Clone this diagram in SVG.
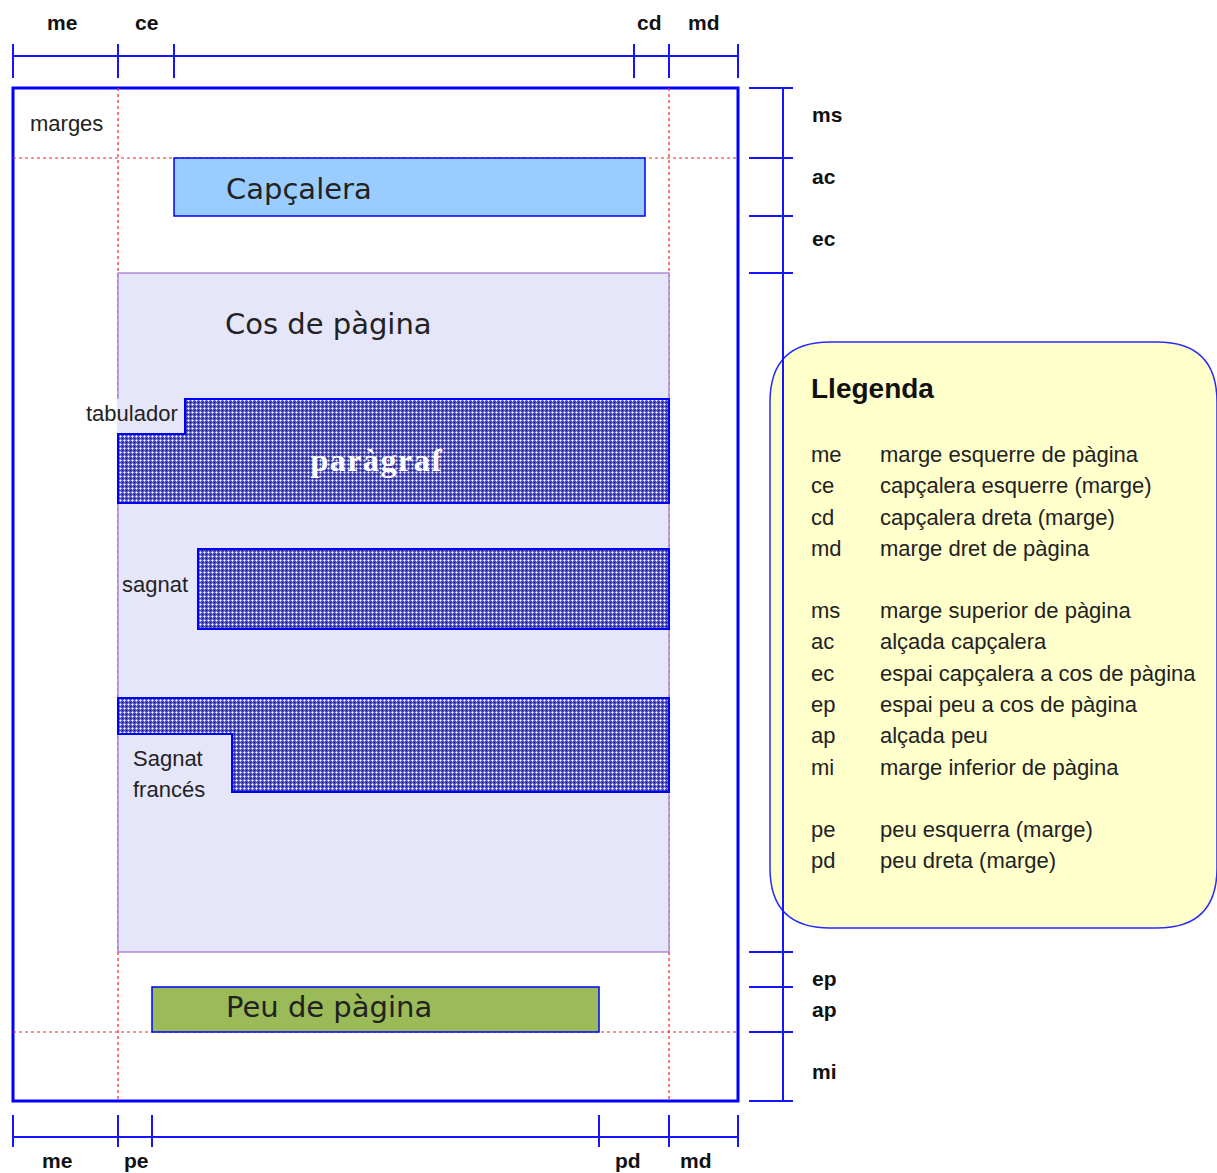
<svg xmlns="http://www.w3.org/2000/svg" width="1217" height="1173" viewBox="0 0 1217 1173">
<style>
.rl{stroke:#1414ff;stroke-width:2;fill:none}
.red{stroke:#ff2020;stroke-width:1.2;stroke-dasharray:3 3;fill:none}
.lab{font-family:"Liberation Sans",Arial,sans-serif;font-weight:bold;font-size:21px;fill:#111}
.big{font-family:"DejaVu Sans",Verdana,sans-serif;font-size:29px;fill:#222}
.sm{font-family:"Liberation Sans",Arial,sans-serif;font-size:22px;fill:#222}
.leg{font-family:"Liberation Sans",Arial,sans-serif;font-size:22px;fill:#222}
.par{fill:url(#hatch);stroke:#0000ff;stroke-width:2}
</style>
<defs>
<pattern id="hatch" width="4" height="4" patternUnits="userSpaceOnUse">
<rect width="4" height="4" fill="#4a4ab8"/>
<rect x="0" y="0" width="1" height="1" fill="#ffffff"/>
<rect x="1" y="0" width="1" height="1" fill="#b4b4ec"/>
<rect x="3" y="0" width="1" height="1" fill="#b4b4ec"/>
<rect x="0" y="1" width="1" height="1" fill="#b4b4ec"/>
<rect x="0" y="3" width="1" height="1" fill="#b4b4ec"/>
<rect x="2" y="2" width="1" height="1" fill="#14148c"/>
</pattern>
</defs>
<rect width="1217" height="1173" fill="#ffffff"/>

<g id="legend">
<path d="M830,342 H1157 Q1217,342 1217,402 V868 Q1217,928 1157,928 H830 Q770,928 770,868 V402 Q770,342 830,342 Z" fill="#ffffcc" stroke="#2a2aff" stroke-width="1.5"/>
<text x="811" y="398" font-family="Liberation Sans,Arial,sans-serif" font-weight="bold" font-size="28" fill="#111">Llegenda</text>
<g class="leg">
<text x="811" y="462">me</text><text x="880" y="462">marge esquerre de pàgina</text>
<text x="811" y="493">ce</text><text x="880" y="493">capçalera esquerre (marge)</text>
<text x="811" y="525">cd</text><text x="880" y="525">capçalera dreta (marge)</text>
<text x="811" y="556">md</text><text x="880" y="556">marge dret de pàgina</text>
<text x="811" y="618">ms</text><text x="880" y="618">marge superior de pàgina</text>
<text x="811" y="649">ac</text><text x="880" y="649">alçada capçalera</text>
<text x="811" y="681">ec</text><text x="880" y="681">espai capçalera a cos de pàgina</text>
<text x="811" y="712">ep</text><text x="880" y="712">espai peu a cos de pàgina</text>
<text x="811" y="743">ap</text><text x="880" y="743">alçada peu</text>
<text x="811" y="775">mi</text><text x="880" y="775">marge inferior de pàgina</text>
<text x="811" y="837">pe</text><text x="880" y="837">peu esquerra (marge)</text>
<text x="811" y="868">pd</text><text x="880" y="868">peu dreta (marge)</text>
</g>
</g>

<g id="page">
<rect x="13" y="88" width="725" height="1013" fill="#ffffff" stroke="#0000ff" stroke-width="3"/>
<text class="sm" x="30" y="131">marges</text>
</g>

<g id="margins">
<line class="red" x1="118" y1="88" x2="118" y2="1101"/>
<line class="red" x1="669" y1="88" x2="669" y2="1101"/>
<line class="red" x1="13" y1="158" x2="738" y2="158"/>
<line class="red" x1="13" y1="1032" x2="738" y2="1032"/>
</g>

<g id="cos">
<rect x="118" y="273" width="551" height="679" fill="#e6e6fb" stroke="#a070d0" stroke-width="1.2"/>
<text class="big" x="225" y="334">Cos de pàgina</text>
</g>

<g id="capcalera">
<rect x="174" y="158" width="471" height="58" fill="#99ccff" stroke="#0000ff" stroke-width="1.5"/>
<text class="big" x="226" y="199">Capçalera</text>
</g>

<g id="paragraf">
<rect x="117" y="399" width="68" height="35" fill="#e6e6fb"/>
<path class="par" d="M185,399 H669 V503 H118 V434 H185 Z"/>
<text x="377" y="471" text-anchor="middle" font-family="Liberation Serif,serif" font-weight="bold" font-size="32" letter-spacing="1.5" fill="#ffffff">paràgraf</text>
<text class="sm" x="86" y="421">tabulador</text>
</g>

<g id="sagnat">
<rect class="par" x="198" y="549" width="471" height="80"/>
<text class="sm" x="122" y="592">sagnat</text>
</g>

<g id="sagnat-frances">
<path class="par" d="M118,698 H669 V792 H232 V734 H118 Z"/>
<text class="sm" x="133" y="766">Sagnat</text>
<text class="sm" x="133" y="797">francés</text>
</g>

<g id="peu">
<rect x="152" y="987" width="447" height="45" fill="#9bbb59" stroke="#0000ff" stroke-width="1.5"/>
<text class="big" x="226" y="1017">Peu de pàgina</text>
</g>

<g id="rulers">
<line class="rl" x1="13" y1="56" x2="738" y2="56"/>
<path class="rl" d="M13,44 V78 M118,44 V78 M174,44 V78 M634,44 V78 M669,44 V78 M738,44 V78"/>
<line class="rl" x1="13" y1="1137" x2="738" y2="1137"/>
<path class="rl" d="M13,1115 V1147 M118,1115 V1147 M152,1115 V1147 M599,1115 V1147 M669,1115 V1147 M738,1115 V1147"/>
<line class="rl" x1="783" y1="88" x2="783" y2="1101"/>
<path class="rl" d="M749,88 H793 M749,158 H793 M749,216 H793 M749,273 H793 M749,952 H793 M749,987 H793 M749,1032 H793 M749,1101 H793"/>
</g>

<g id="ruler-labels" class="lab">
<text x="47" y="30">me</text>
<text x="135" y="30">ce</text>
<text x="637" y="30">cd</text>
<text x="688" y="30">md</text>
<text x="42" y="1168">me</text>
<text x="124" y="1168">pe</text>
<text x="615" y="1168">pd</text>
<text x="680" y="1168">md</text>
<text x="812" y="122">ms</text>
<text x="812" y="184">ac</text>
<text x="812" y="246">ec</text>
<text x="812" y="986">ep</text>
<text x="812" y="1017">ap</text>
<text x="812" y="1079">mi</text>
</g>
</svg>
